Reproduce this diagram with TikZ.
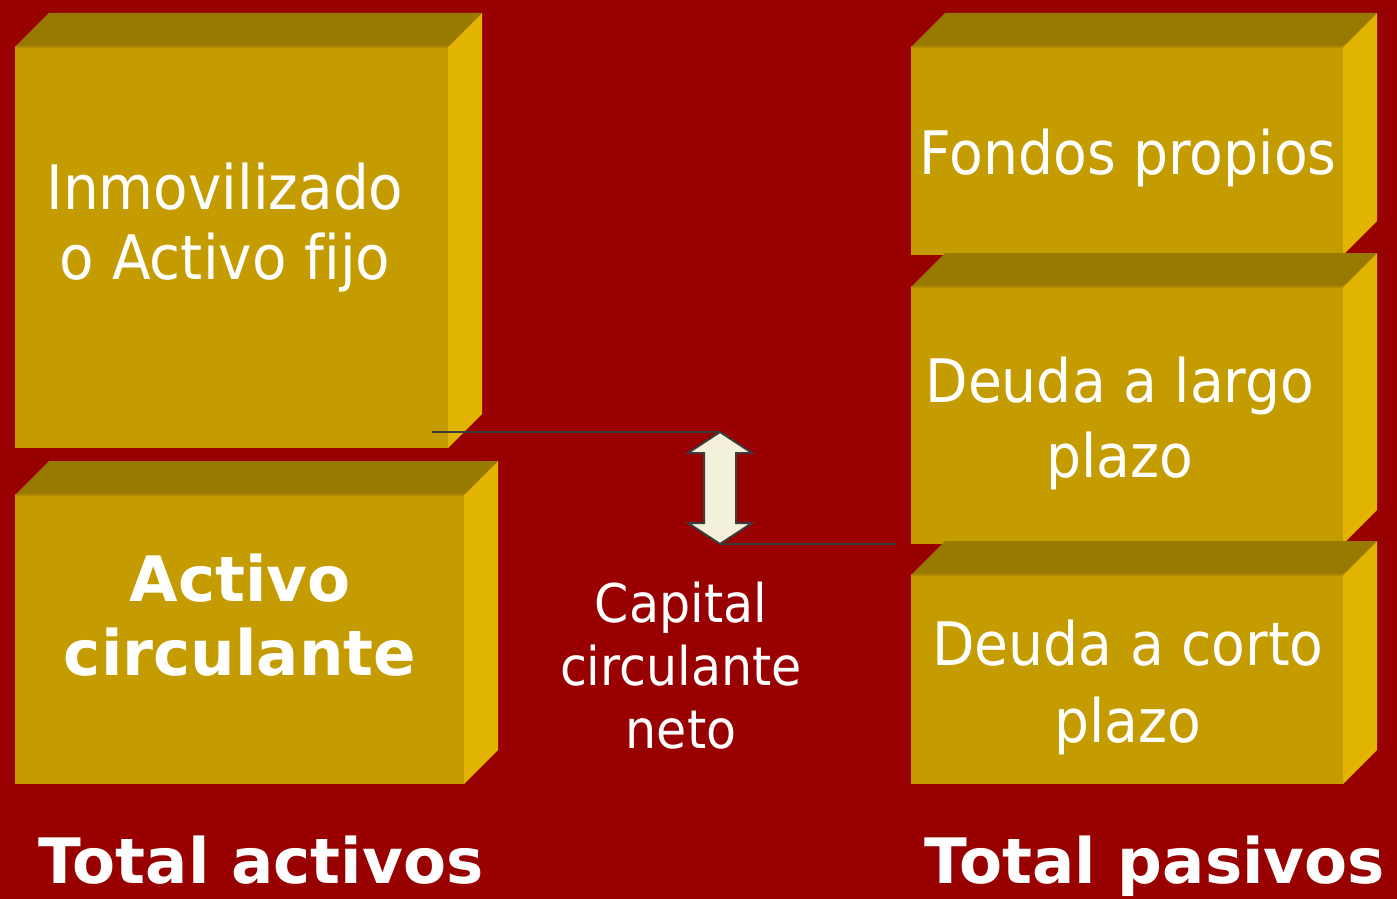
\documentclass[tikz,border=0pt]{standalone}
\usepackage{fontspec}
\setmainfont{DejaVu Sans}[FakeStretch=0.92,Ligatures=NoCommon]
\newfontfamily\boldsans{DejaVu Sans Bold}
\usetikzlibrary{calc,positioning}

\definecolor{bgred}{HTML}{990000}
\definecolor{boxfront}{HTML}{C49C00}
\definecolor{boxtop}{HTML}{997A00}
\definecolor{boxside}{HTML}{E0B400}
\definecolor{boxedge}{HTML}{B08A00}
\definecolor{arrowfill}{HTML}{F4F1DA}
\definecolor{linegray}{HTML}{3C3C3C}

% 3D block: front face from (#1,#2) to (#3,#4), depth 34
\newcommand{\block}[4]{%
  \fill[boxtop] (#1,#2) -- (#1+34,#2-34) -- (#3+34,#2-34) -- (#3,#2) -- cycle;
  \fill[boxside] (#3,#2) -- (#3+34,#2-34) -- (#3+34,#4-34) -- (#3,#4) -- cycle;
  \fill[boxfront] (#1,#2) rectangle (#3,#4);
  \draw[boxedge,line width=1.2pt] (#1,#2) -- (#3,#2);
}

\tikzset{
  boxtext/.style={text=white,align=center,inner sep=0pt,anchor=base},
  regtext/.style={boxtext,font=\fontsize{45}{56}\selectfont},
  boldtext/.style={boxtext,font=\boldsans\fontsize{47}{55}\selectfont},
  gaparrow/.style={draw=linegray,fill=arrowfill,line width=1.5pt,line join=miter},
  guide/.style={draw=linegray,line width=1.5pt}
}

\begin{document}
\begin{tikzpicture}[x=0.75pt,y=-0.75pt]
\fill[bgred] (0,0) rectangle (1397,899);
\useasboundingbox (0,0) rectangle (1397,899);

% activos
\block{15}{47}{448}{448}
\block{15}{495}{464}{784}
% pasivos
\block{911}{47}{1343}{255}
\block{911}{287}{1343}{544}
\block{911}{575}{1343}{784}

% base anchor = baseline of the last line
\node [regtext,font=\fontsize{46}{52.5}\selectfont] (Inmov) at (225,279) {Inmovilizado\\o Activo fijo};
\node [boldtext] (Circ) at (240,675) {Activo\\circulante};
\node [regtext] (Fondos) at (1128,175) {Fondos propios};
\node [regtext] (Largo) at (1120,477) {Deuda a largo\\plazo};
\node [regtext,font=\fontsize{45}{57.5}\selectfont] (Corto) at (1128,742) {Deuda a corto\\plazo};
\node [regtext,font=\fontsize{40}{47}\selectfont] (Capital) at (681,748) {Capital\\circulante\\neto};
\node [boldtext] (TotAct) at (261,883) {Total activos};
\node [boldtext] (TotPas) at (1155,883) {Total pasivos};

\coordinate (GapTop) at (720,432);
\coordinate (GapBot) at (720,544);
\coordinate (FijoEnd) at (432,432);
\coordinate (LargoEnd) at (896,544);
\draw [gaparrow] (GapTop) -- ++(32,21) -- ++(-16,0) -- ++(0,70) -- ++(16,0) -- (GapBot)
  -- ++(-32,-21) -- ++(16,0) -- ++(0,-70) -- ++(-16,0) -- cycle;
\draw [guide] (FijoEnd) -- (GapTop);
\draw [guide] (GapBot) -- (LargoEnd);
\end{tikzpicture}
\end{document}
